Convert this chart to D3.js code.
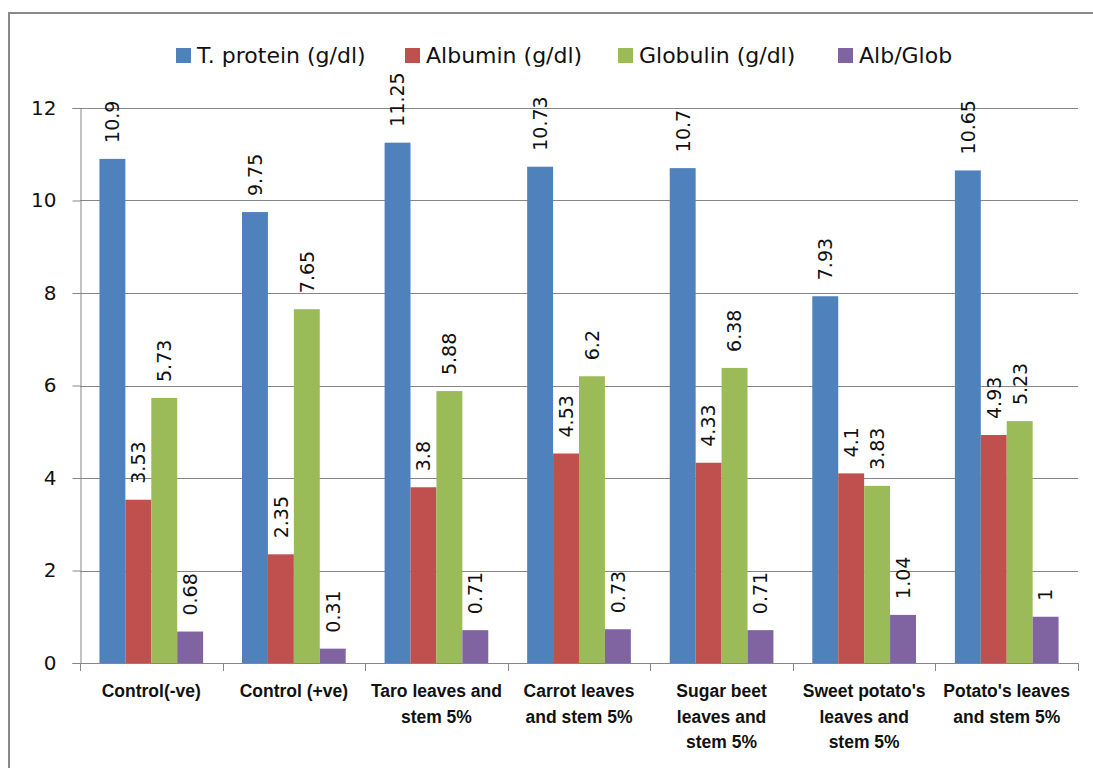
<!DOCTYPE html>
<html>
<head>
<meta charset="utf-8">
<script src="https://cdn.jsdelivr.net/npm/d3@7"></script>
<style>
  html, body { margin: 0; padding: 0; background: #fff; }
  svg { display: block; }
</style>
</head>
<body>
<svg id="chart" width="1093" height="768"></svg>
<script>
// Groups shown along the x axis ("\n" marks a line break in the label)
const categories = [
  "Control(-ve)",
  "Control (+ve)",
  "Taro leaves and\nstem 5%",
  "Carrot leaves\nand stem 5%",
  "Sugar beet\nleaves and\nstem 5%",
  "Sweet potato's\nleaves and\nstem 5%",
  "Potato's leaves\nand stem 5%"
];

const seriesNames = ["T. protein (g/dl)", "Albumin (g/dl)", "Globulin (g/dl)", "Alb/Glob"];
const seriesColors = ["#4F81BD", "#C0504D", "#9BBB59", "#8064A2"];

const totalProtein = [10.9, 9.75, 11.25, 10.73, 10.7, 7.93, 10.65];
const albumin      = [3.53, 2.35, 3.8, 4.53, 4.33, 4.1, 4.93];
const globulin     = [5.73, 7.65, 5.88, 6.2, 6.38, 3.83, 5.23];
const albGlobRatio = [0.68, 0.31, 0.71, 0.73, 0.71, 1.04, 1];

const yTicks = [0, 2, 4, 6, 8, 10, 12];

const seriesValues = [totalProtein, albumin, globulin, albGlobRatio];

const svg = d3.select("#chart");
const W = 1093, H = 768;

// Outer frame (open on the right and bottom, as cropped)
svg.append("rect")
  .attr("x", 9).attr("y", 13)
  .attr("width", W + 20).attr("height", H + 20)
  .attr("fill", "#fff")
  .attr("stroke", "#8a8a8a")
  .attr("stroke-width", 2);

const plot = { left: 80, right: 1078, top: 108, bottom: 663 };

const x = d3.scaleBand()
  .domain(categories)
  .range([plot.left, plot.right])
  .paddingInner(0).paddingOuter(0);

// bars occupy 4 of 5.5 slots in each group (150% gap)
const step = x.bandwidth();
const barW = step / 5.5;
const groupOffset = barW * 0.75;
const xs = d3.scaleBand()
  .domain(d3.range(seriesNames.length))
  .range([groupOffset, groupOffset + barW * 4])
  .padding(0);

const y = d3.scaleLinear().domain([0, 12]).range([plot.bottom, plot.top]);

const axisColor = "#868686";
const baseFont = "'DejaVu Sans', sans-serif";

// horizontal gridlines
svg.append("g")
  .selectAll("line")
  .data(yTicks.filter(t => t !== 0))
  .join("line")
  .attr("x1", plot.left).attr("x2", plot.right)
  .attr("y1", d => Math.round(y(d)) + 0.5)
  .attr("y2", d => Math.round(y(d)) + 0.5)
  .attr("stroke", axisColor)
  .attr("stroke-width", 1);

// y axis
const yAxis = svg.append("g")
  .attr("transform", `translate(${plot.left + 0.5},0)`)
  .call(d3.axisLeft(y).tickValues(yTicks).tickSize(8).tickPadding(16).tickFormat(d3.format("d")));
yAxis.select(".domain").attr("stroke", axisColor);
yAxis.selectAll(".tick line").attr("stroke", axisColor);
yAxis.selectAll(".tick text")
  .attr("font-family", baseFont)
  .attr("font-size", 20)
  .attr("fill", "#111");

// bars
const groups = svg.append("g")
  .selectAll("g")
  .data(seriesValues)
  .join("g")
  .attr("fill", (d, i) => seriesColors[i]);

groups.each(function (vals, si) {
  d3.select(this).selectAll("rect")
    .data(vals)
    .join("rect")
    .attr("x", (v, ci) => x(categories[ci]) + xs(si))
    .attr("y", v => y(v))
    .attr("width", xs.bandwidth())
    .attr("height", v => y(0) - y(v));
});

// x axis baseline with tick marks at group boundaries
const xAxisG = svg.append("g");
xAxisG.append("line")
  .attr("x1", plot.left).attr("x2", plot.right)
  .attr("y1", plot.bottom + 0.5).attr("y2", plot.bottom + 0.5)
  .attr("stroke", axisColor);
const bounds = categories.map(c => x(c)).concat([plot.right]);
xAxisG.selectAll("line.tk")
  .data(bounds)
  .join("line")
  .attr("class", "tk")
  .attr("x1", d => Math.round(d) + 0.5).attr("x2", d => Math.round(d) + 0.5)
  .attr("y1", plot.bottom).attr("y2", plot.bottom + 8)
  .attr("stroke", axisColor);

// category labels
const catText = svg.append("g")
  .selectAll("text")
  .data(categories)
  .join("text")
  .attr("text-anchor", "middle")
  .attr("font-family", "'Liberation Sans', Arial, sans-serif")
  .attr("font-weight", "bold")
  .attr("font-size", 17.5)
  .attr("fill", "#111");
catText.each(function (c) {
  const cx = x(c) + step / 2;
  d3.select(this).selectAll("tspan")
    .data(c.split("\n"))
    .join("tspan")
    .attr("x", cx)
    .attr("y", (l, i) => 697 + i * 25.5)
    .text(l => l);
});

// value labels, rotated, above each bar
const labels = svg.append("g");
seriesValues.forEach((vals, si) => {
  labels.selectAll(null)
    .data(vals)
    .join("text")
    .attr("transform", (v, ci) => {
      const cx = x(categories[ci]) + xs(si) + xs.bandwidth() / 2;
      return `translate(${cx},${y(v) - 16}) rotate(-90)`;
    })
    .attr("dy", "0.36em")
    .attr("text-anchor", "start")
    .attr("font-family", baseFont)
    .attr("font-size", 19)
    .attr("fill", "#111")
    .text(v => String(v));
});

// legend
const legendX = [176, 405, 618, 838];
const legend = svg.append("g")
  .selectAll("g")
  .data(seriesNames)
  .join("g")
  .attr("transform", (d, i) => `translate(${legendX[i]},48)`);
legend.append("rect")
  .attr("width", 15).attr("height", 15)
  .attr("fill", (d, i) => seriesColors[i]);
legend.append("text")
  .attr("x", 21).attr("y", 15)
  .attr("font-family", baseFont)
  .attr("font-size", 22)
  .attr("fill", "#111")
  .text(d => d);
</script>
</body>
</html>
